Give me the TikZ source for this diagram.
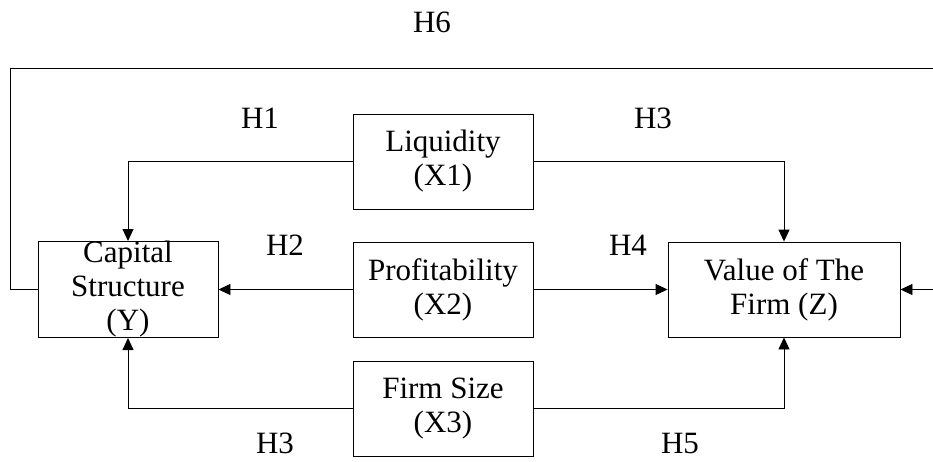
\documentclass[tikz,border=0pt]{standalone}
\usepackage{fontspec}
\setmainfont{Liberation Serif}
\usetikzlibrary{arrows.meta}

\begin{document}
\begin{tikzpicture}[x = 1pt, y = -1pt, font = \fontsize{31}{34}\selectfont,
  box/.style = {draw, line width = 0.9pt, inner sep = 0pt, align = center, minimum height = 95pt},
  link/.style = {line width = 0.9pt},
  > = {Triangle[length = 12pt, width = 11pt]}]
\useasboundingbox (0,0) rectangle (933,461);
\clip (0,0) rectangle (933,461);
\node (cap) at (128,289.5) [box, minimum width = 180pt] {Capital\\Structure\\(Y)};
\node (val) at (784,289.5) [box, minimum width = 232pt] {Value of The\\Firm (Z)};
\node (liq) at (443,161.5) [box, minimum width = 180pt] {Liquidity\\(X1)};
\node (prof) at (443,289.5) [box, minimum width = 180pt] {Profitability\\(X2)};
\node (size) at (443,408.5) [box, minimum width = 180pt] {Firm Size\\(X3)};
\coordinate (loopL) at (10,68);
\coordinate (loopR) at (960,68);
\draw [link, ->] (liq.west) -| (cap.north);
\draw [link, ->] (liq.east) -| (val.north);
\draw [link, ->] (prof.west) -- (cap.east);
\draw [link, ->] (prof.east) -- (val.west);
\draw [link, ->] (size.west) -| (cap.south);
\draw [link, ->] (size.east) -| (val.south);
\draw [link, ->] (cap.west) -| (loopL) -- (loopR) |- (val.east);
\node (h6) at (432,22) {H6};
\node (h1) at (260,118) {H1};
\node (h3a) at (653,118) {H3};
\node (h2) at (285,245) {H2};
\node (h4) at (628,245) {H4};
\node (h3b) at (275,443) {H3};
\node (h5) at (680,443) {H5};
\end{tikzpicture}
\end{document}
